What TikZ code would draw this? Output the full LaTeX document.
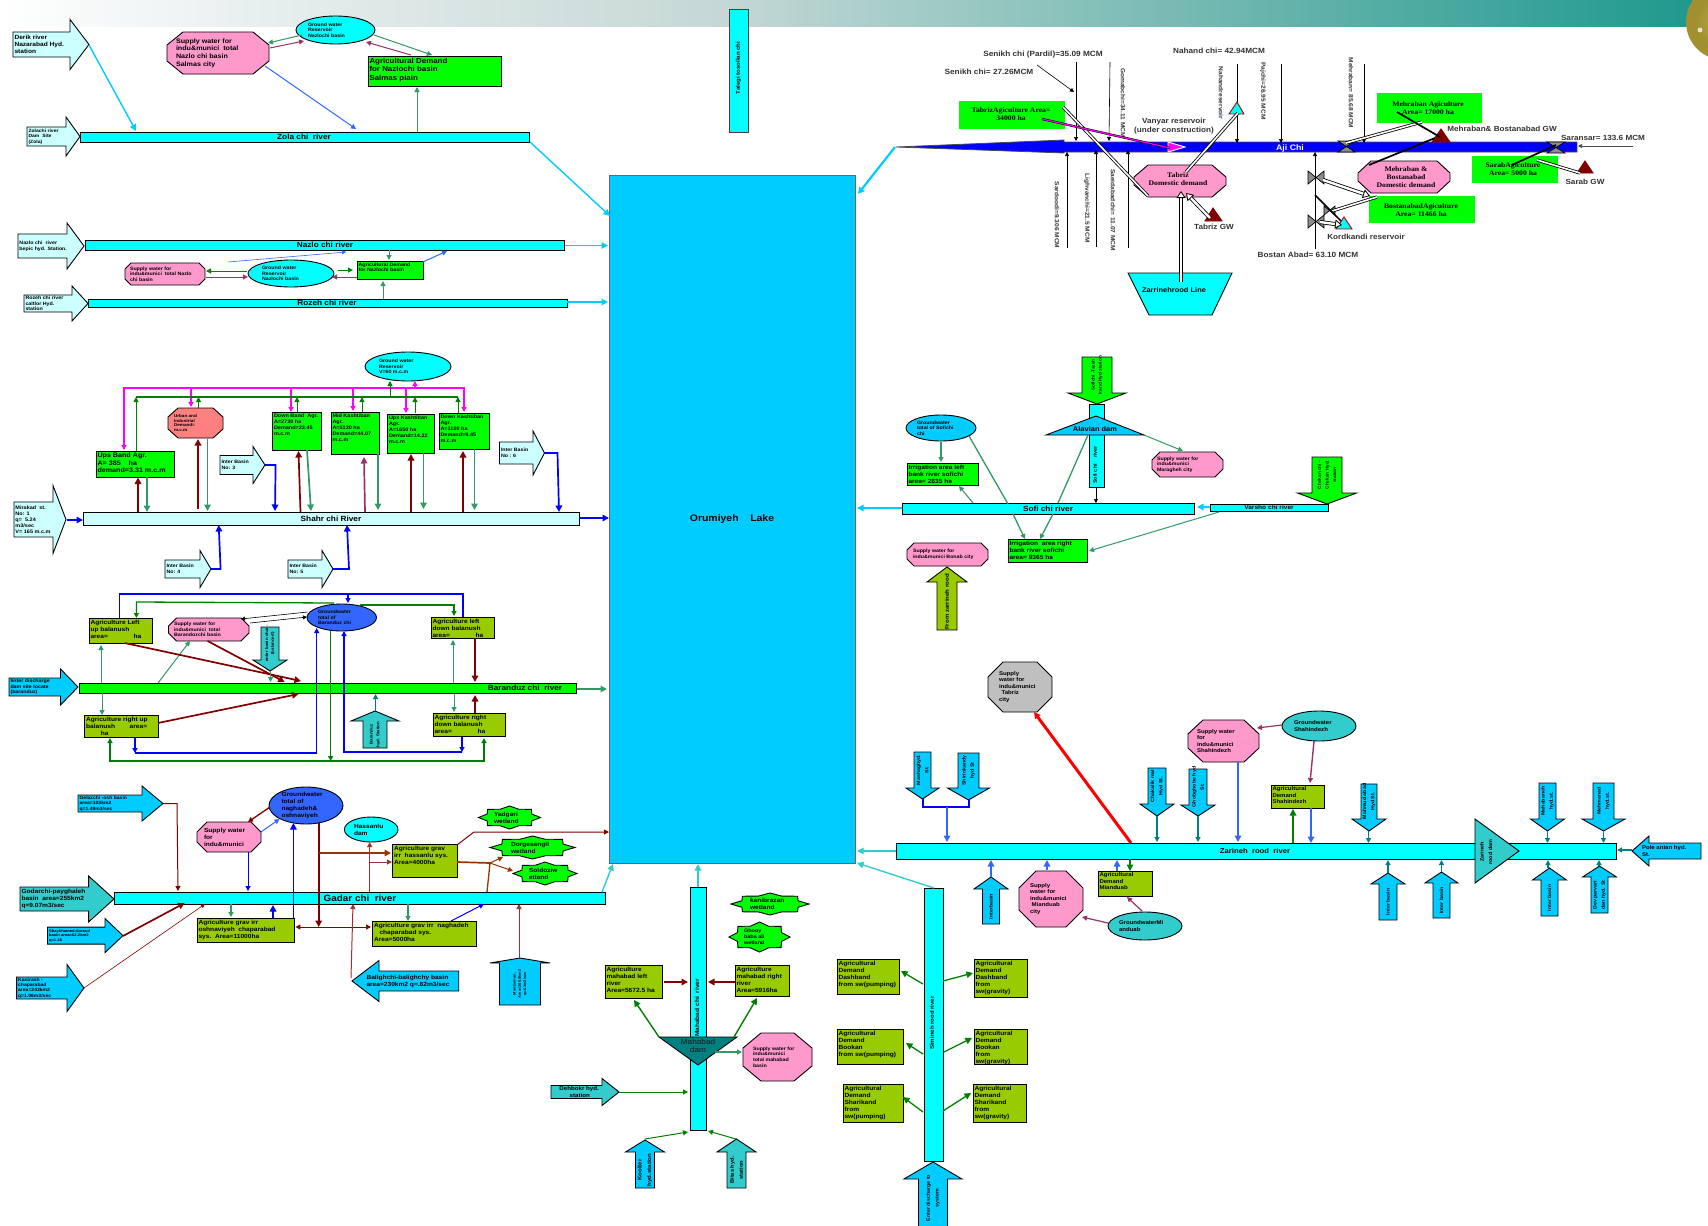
\documentclass[tikz,border=0pt]{standalone}
\usepackage{fontspec}
\setmainfont{Liberation Sans}[FakeStretch=1.1]
\newfontfamily\serb{Liberation Serif}[FakeStretch=1.1]
\usetikzlibrary{shapes.geometric,arrows.meta}
\definecolor{cyn}{HTML}{00FFFF}
\definecolor{lm}{HTML}{00FF00}
\definecolor{lc}{HTML}{CCFFFF}
\definecolor{sky}{HTML}{00CCFF}
\definecolor{tq}{HTML}{33CCCC}
\definecolor{oliv}{HTML}{99CC00}
\definecolor{pinkf}{HTML}{FF99CC}
\definecolor{seag}{HTML}{339966}
\definecolor{plum}{HTML}{993366}
\definecolor{rb}{HTML}{3366FF}
\definecolor{bb}{HTML}{0000FF}
\definecolor{dg}{HTML}{008000}
\definecolor{mar}{HTML}{800000}
\definecolor{tl}{HTML}{008080}
\definecolor{brn}{HTML}{993300}
\definecolor{rd}{HTML}{993333}
\definecolor{mg}{HTML}{FF00FF}
\definecolor{glA}{HTML}{C8B050}
\definecolor{glB}{HTML}{A09030}
\definecolor{glC}{HTML}{7070C0}
\definecolor{glD}{HTML}{404090}
\definecolor{bgA}{HTML}{E4ECEC}
\definecolor{bgB}{HTML}{C5D8D5}
\definecolor{bgC}{HTML}{1C988C}
\pgfdeclareradialshading{globe}{\pgfpoint{0bp}{0bp}}{color(0bp)=(glA);color(18bp)=(glB);color(26bp)=(glB);color(31bp)=(glC);color(35bp)=(glD);color(50bp)=(glD)}
\newcommand\fz[1]{\bfseries\fontsize{#1}{\dimexpr #1pt*118/100\relax}\selectfont}
\tikzset{
  lab/.style={inner sep=0pt,outer sep=0pt,align=left,text=black},
  T/.style={font=\fz{#1}},
  S/.style={font=\serb\fz{#1}},
  G/.style={font=\fz{#1},text=black!80},
  blk/.style={draw=black,line width=.9pt},
  ar/.style={line width=1pt,-{Triangle[length=5pt,width=5pt]}},
  arB/.style={line width=1.7pt,-{Triangle[length=6.5pt,width=6.5pt]}},
  arS/.style={line width=.6pt,-{Triangle[length=4pt,width=4pt]}},
  arD/.style={line width=1pt,{Triangle[length=5pt,width=5pt]}-{Triangle[length=5pt,width=5pt]}},
  nt/.style={line width=1pt},
  ntB/.style={line width=1.7pt},
  hol/.style={draw=black,double=white,double distance=2.4pt,line width=.8pt,-{Triangle[length=7pt,width=9pt,fill=white,color=black]}},
  hoc/.style={draw=black,double=white,double distance=1.6pt,line width=.8pt},
}
\def\getrect#1,#2,#3,#4\relax{\def\rxa{#1}\def\rya{#2}\def\rxb{#3}\def\ryb{#4}%
  \pgfmathsetmacro\rcx{(#1+#3)/2}\pgfmathsetmacro\rcy{(#2+#4)/2}%
  \pgfmathsetmacro\rw{#3-#1}\pgfmathsetmacro\rh{#4-#2}}
\def\getA#1,#2,#3,#4,#5,#6\relax{\def\aT{#1}\def\aB{#2}\def\aP{#3}\def\aC{#4}\def\aS{#5}\def\aH{#6}}
% rectangle with text top-left
\newcommand\RB[5]{\getrect#2\relax
  \node[blk,fill=#3,minimum width=\rw pt,minimum height=\rh pt,inner sep=0pt,outer sep=0pt] (#1) at (\rcx,\rcy) {};
  \node[lab,T=#4,anchor=north west] (#1-t) at ({\rxa+1.5},{\rya+1.8}) {#5};}
% river with centred label
\newcommand\RV[6]{\getrect#2\relax
  \node[blk,fill=#3,minimum width=\rw pt,minimum height=\rh pt,inner sep=0pt,outer sep=0pt] (#1) at (\rcx,\rcy) {};
  \node[lab,T=#4] (#1-t) at (#5,\rcy) {#6};}
% octagon
\newcommand\OCT[8]{\getrect#2\relax
  \draw[blk,fill=#5] ({\rxa+#3},\rya) -- ({\rxb-#3},\rya) -- (\rxb,{\rya+#4}) -- (\rxb,{\ryb-#4}) -- ({\rxb-#3},\ryb) -- ({\rxa+#3},\ryb) -- (\rxa,{\ryb-#4}) -- (\rxa,{\rya+#4}) -- cycle;
  \node[minimum width=\rw pt,minimum height=\rh pt,inner sep=0pt,outer sep=0pt] (#1) at (\rcx,\rcy) {};
  \node[lab,T=#6,anchor=west] (#1-t) at (#7,\rcy) {#8};}
% ellipse
\newcommand\EL[6]{\getrect#2\relax
  \node[ellipse,blk,fill=#3,minimum width=\rw pt,minimum height=\rh pt,inner sep=0pt,outer sep=0pt] (#1) at (\rcx,\rcy) {};
  \node[lab,T=#4,anchor=west] (#1-t) at (#5,\rcy) {#6};}
% eight pointed star
\newcommand\ST[5]{\getrect#2\relax
  \draw[blk,fill=lm] ({\rcx+\rw/2},\rcy) \foreach \ang/\rad in {22.5/.78,45/1,67.5/.78,90/1,112.5/.78,135/1,157.5/.78,180/1,202.5/.78,225/1,247.5/.78,270/1,292.5/.78,315/1,337.5/.78}{ -- ({\rcx+\rw/2*\rad*cos(\ang)},{\rcy+\rh/2*\rad*sin(\ang)}) } -- cycle;
  \node[lab,T=#3,anchor=west] (#1) at (#4,\rcy) {#5};}
% block arrows: tail,base,tip,centre,half shaft,half head
\newcommand\BAH[6][]{\getA#4\relax
  \draw[blk,fill=#3] (\aT,{\aC-\aS}) -- (\aB,{\aC-\aS}) -- (\aB,{\aC-\aH}) -- (\aP,\aC) -- (\aB,{\aC+\aH}) -- (\aB,{\aC+\aS}) -- (\aT,{\aC+\aS}) -- cycle;
  \coordinate (#2-tip) at (\aP,\aC);
  \def\tmp{#1}\ifx\tmp\empty\pgfmathsetmacro\tx{\aT+1.5}\else\def\tx{#1}\fi
  \node[lab,T=#5,anchor=west] (#2) at (\tx,\aC) {#6};}
\newcommand\BAV[6][]{\getA#4\relax
  \draw[blk,fill=#3] ({\aC-\aS},\aT) -- ({\aC-\aS},\aB) -- ({\aC-\aH},\aB) -- (\aC,\aP) -- ({\aC+\aH},\aB) -- ({\aC+\aS},\aB) -- ({\aC+\aS},\aT) -- cycle;
  \coordinate (#2-tip) at (\aC,\aP);
  \def\tmp{#1}\ifx\tmp\empty\pgfmathsetmacro\ty{(\aT+\aB)/2}\else\def\ty{#1}\fi
  \node[lab,T=#5,rotate=90,align=center] (#2) at (\aC,\ty) {#6};}
\newcommand\TRI[6]{\draw[#6,fill=#5,line width=.9pt] (#2) -- (#3) -- (#4) -- cycle; \coordinate (#1) at (#2);}
\newcommand\VALH[2]{\getrect#2\relax\draw[draw=black,line width=.7pt,fill=black!45] (\rxa,\rya) -- (\rxa,\ryb) -- (\rxb,\rya) -- (\rxb,\ryb) -- cycle; \coordinate (#1) at (\rcx,\rcy);}
\newcommand\VALV[2]{\getrect#2\relax\draw[draw=black,line width=.7pt,fill=black!45] (\rxa,\rya) -- (\rxb,\rya) -- (\rxa,\ryb) -- (\rxb,\ryb) -- cycle; \coordinate (#1) at (\rcx,\rcy);}
\newcounter{cnn}
\newcommand\polyc[6][]{\stepcounter{cnn}\coordinate (#2-a\thecnn) at (#3);\coordinate (#4-b\thecnn) at (#5);\draw[#1] (#2-a\thecnn) #6 -- (#4-b\thecnn);}
\newcommand\conn[5][]{\polyc[#1]{#2}{#3}{#4}{#5}{}}
\begin{document}
\begin{tikzpicture}[x=1pt,y=-1pt]
\path[use as bounding box] (0,0) rectangle (1708,1226);
\clip (0,0) rectangle (1708,1226);
\fill[white] (0,0) rectangle (1708,1226);
\shade[left color=white,right color=bgA] (0,0) rectangle (300,26);
\shade[left color=bgA,right color=bgB] (300,0) rectangle (720,26);
\shade[left color=bgB,right color=bgC] (720,0) rectangle (1708,26);
\shade[shading=globe] (1724,22) circle (38);
\fill[white,opacity=.75] (1700,30) circle (2.5);

% ---------- lake
\node[draw=black!60,line width=.5pt,fill=sky,minimum width=246pt,minimum height=688pt,inner sep=0pt,outer sep=0pt] (lake) at (732,519) {};
\node[lab,T=9.5] (lake-t) at (732,519) {Orumiyeh~~~~Lake};
\node[blk,draw=black!75,fill=cyn,minimum width=19pt,minimum height=123pt,inner sep=0pt,outer sep=0pt] (tale) at (738.5,70.5) {};
\node[lab,T=5.5,rotate=90] (tale-t) at (738.5,68) {Talegi tosollan chi};

% ---------- Zola
\BAH{derik}{lc}{13,70,89,44.5,12.5,25}{6}{Derik river\\Nazarabad Hyd.\\station}
\BAH{zolad}{lc}{27,66,80,136.5,9.5,19.5}{4.6}{Zolachi river\\Dam~~Site\\(Zola)}
\RV{zola}{80,132,529,142}{cyn}{7.5}{304}{Zola chi~~river}
\OCT{sup1}{167,32,269,74}{16}{13}{pinkf}{6.5}{176}{Supply water for\\indu\&munici~~total\\Nazlo chi basin\\Salmas city}
\EL{gw1}{296,16,375,44}{cyn}{4.8}{308}{Ground water\\Reservoir\\Nazlochi basin}
\RB{agr1}{368,56,501,86}{lm}{7.2}{Agricultural Demand\\for Nazlochi basin\\Salmas plain}
\conn[arB,sky,line width=1.4pt]{derik}{89,45}{zola}{136,131}
\conn[ar,seag]{gw1}{302,35}{sup1}{268,43}
\conn[ar,plum]{sup1}{270,48}{gw1}{304,41}
\conn[ar,seag]{gw1}{374,35}{agr1}{432,55}
\conn[ar,plum]{agr1}{411,55}{gw1}{366,42}
\conn[ar,rb]{sup1}{265,66}{zola}{356,129}
\conn[ar,seag]{zola}{417,132}{agr1}{417,87}
\conn[arB,sky,line width=1.4pt]{zola}{530,142}{lake}{610,216}

% ---------- Nazlo
\BAH{nazd}{lc}{18,67,84,246,12,23}{4.8}{Nazlo chi~~river\\bepic hyd. Station.}
\RV{nazlo}{85,240,564,250}{cyn}{7.5}{325}{Nazlo chi river}
\OCT{sup2}{125,263,205,285}{6}{6}{pinkf}{4.8}{130}{Supply water for\\indu\&munici~~total Nazlo\\chi basin}
\EL{gw2}{248,260,334,287}{cyn}{4.8}{262}{Ground water\\Reservoir\\Nazlochi basin}
\RB{agr2}{357,261,423.5,279}{lm}{4.8}{Agricultural Demand\\for Nazlochi basin}
\BAH{rozd}{lc}{24,72,88,303.5,8.5,17.5}{4.8}{Rozeh chi river\\caltlor Hyd.\\station}
\RV{rozeh}{88,299,567,307}{cyn}{7.5}{327}{Rozeh chi river}
\conn[arB,sky,line width=1.2pt]{nazlo}{565,245.5}{lake}{608,245.5}
\conn[arB,sky,line width=1.2pt]{rozeh}{567,302}{lake}{608,302}
\conn[ar,rb,arS]{gw2}{228,262}{nazlo}{346,252}
\conn[ar,seag]{nazlo}{389,250}{agr2}{389,260}
\conn[ar,rb]{agr2}{423,262}{nazlo}{447,251}
\conn[ar,dg]{gw2}{247,271}{sup2}{206,271}
\conn[ar,plum]{sup2}{206,277}{gw2}{248,277}
\conn[ar,dg]{gw2}{338,270}{agr2}{353,270}
\conn[ar,plum]{agr2}{357,277}{gw2}{332,277}
\conn[ar,seag]{rozeh}{383,299}{agr2}{383,281}

% ---------- Shahr
\RV{shahr}{83.5,512,579,525}{lc}{7.5}{331}{Shahr chi River}
\EL{gw3}{365,352,451,381}{cyn}{4.8}{379}{Ground water\\Reservoir\\V=60 m.c.m}
\RB{upb}{96,451,174,477}{lm}{6.5}{Ups Band Agr.\\A= 385~~~~ha\\demand=3.31 m.c.m}
\OCT{urb}{168,408,223,438}{10}{9}{red!50}{4.2}{174}{Urban and\\Industrial\\Demand=\\m.c.m}
\RB{dnb}{272.5,412,321.5,450}{lm}{5}{Down Band~~Agr.\\A=2730 ha\\Demand=23.45\\m.c.m}
\RB{mdk}{331,412,379,454}{lm}{5}{Mid Kashtiban\\Agr.\\A=5130 ha\\Demand=44.07\\m.c.m}
\RB{upk}{387.5,414,434.5,453}{lm}{5}{Ups Kashtiban\\Agr.\\A=1650 ha\\Demand=14.22\\m.c.m}
\RB{dnk}{439,413,489.5,449}{lm}{5}{Down Kashtiban\\Agr.\\A=1100 ha\\Demand=9.45\\m.c.m}
\polyc[ar,mg,line width=1.2pt]{dnk}{465,388}{upb}{124,450}{-- (124,388)}
\conn[ar,mg,line width=1.2pt]{upb}{191,388}{urb}{191,407}
\conn[ar,mg,line width=1.2pt]{upb}{291,388}{dnb}{291,412}
\conn[ar,mg,line width=1.2pt]{upb}{353,388}{mdk}{353,411}
\conn[ar,mg,line width=1.2pt]{upb}{406,388}{upk}{406,413}
\conn[ar,mg,line width=1.2pt]{upb}{464,388}{dnk}{464,412}
\conn[ar,mg,line width=1.2pt]{upb}{415,388}{gw3}{415,381}
\conn[nt,dg,line width=1.2pt]{upb}{136,397}{dnk}{458,397}
\conn[ar,dg]{upb}{136,451}{dnk}{136,397}
\conn[ar,dg]{urb}{198.5,408}{dnk}{198.5,397}
\conn[ar,dg]{dnb}{297,412}{dnk}{297,397}
\conn[ar,dg]{mdk}{362,412}{dnk}{362,397}
\conn[ar,dg]{upk}{415,413}{dnk}{415,397}
\conn[ar,dg]{dnk}{458,413}{upb}{458,397}
\conn[ar,dg]{upb}{390,397}{gw3}{390,381}
\conn[arB,mar]{shahr}{138,512}{upb}{138,477.5}
\conn[arB,mar]{shahr}{198,509}{urb}{198,439}
\conn[arB,mar]{shahr}{300.5,512}{dnb}{298.5,451}
\conn[arB,plum]{shahr}{365,512}{mdk}{364,457}
\conn[arB,mar]{shahr}{411,512}{upk}{411,454}
\conn[arB,mar]{shahr}{463,512}{dnk}{463,451}
\conn[arB,seag]{upb}{147,477}{shahr}{147,512}
\conn[arB,seag]{urb}{207.5,439}{shahr}{207.5,511}
\conn[arB,seag]{dnb}{307,450}{shahr}{311,511}
\conn[arB,seag]{mdk}{378,454}{shahr}{378,510}
\conn[arB,seag]{upk}{423.5,453}{shahr}{423.5,509}
\conn[arB,seag]{dnk}{474.5,449}{shahr}{474.5,510}
\BAH{ib1}{lc}{14,53,66,519.5,17.5,34}{5}{Mirakad~~st.\\No: 1\\q=~~5.24\\m3/sec\\V= 165 m.c.m}
\BAH{ib3}{lc}{220,253,265,465,9.5,18.5}{4.8}{Inter Basin\\No: 3}
\BAH{ib6}{lc}{499.5,533,544.5,453,11,22}{4.8}{Inter Basin\\No : 6}
\BAH{ib4}{lc}{165,200,211,569,9,18.5}{4.8}{Inter Basin\\No: 4}
\BAH{ib5}{lc}{288,322,333,569,9,18.5}{4.8}{Inter Basin\\No: 5}
\conn[arB,bb]{ib1-tip}{66.5,520}{shahr}{83,520}
\polyc[arB,bb]{ib3-tip}{265,465}{shahr}{275,511}{-- (275.6,465)}
\polyc[arB,bb]{ib6-tip}{544.5,453}{shahr}{559,512}{-- (557.5,453)}
\polyc[arB,bb]{ib4-tip}{211,569}{shahr}{218.7,525}{-- (220.6,569)}
\polyc[arB,bb]{ib5-tip}{333,569}{shahr}{347,525}{-- (349,569)}
\conn[arB,bb]{shahr}{579,518}{lake}{609,518}

% ---------- Baranduz
\RV{baran}{79.5,683,576,693}{lm}{7.5}{525}{Baranduz chi~~river}
\EL{gw4}{307,604,376.5,631}{rb}{4.8}{318}{Groundwater\\total of\\Baranduz chi}
\RB{alu}{89,618,152,643}{oliv}{6}{Agriculture Left\\up balanush\\area=~~~~~~~~~~~~~~ha}
\OCT{sup3}{168.5,618,249,641}{8}{8}{pinkf}{4.8}{174}{Supply water for\\indu\&munici~~total\\Barandozchi basin}
\RB{ald}{431,617,494,638}{oliv}{6}{Agriculture left\\down balanush\\area=~~~~~~~~~~~~~~ha}
\RB{aru}{84.6,715,158.6,737}{oliv}{6}{Agriculture right up\\balanush~~~~~~~~area=\\~~~~~~~~ha}
\RB{ard}{433,713,505,736}{oliv}{6}{Agriculture right\\down balanush\\area=~~~~~~~~~~~~~~ha}
\BAH{bard}{sky}{9,60.5,78,687,9,18}{4.8}{Iinter discharge\\dam site locate\\(baranduz)}
\BAV{bbal}{tq}{627,660,671,270,9,17}{4}{enter basin chai -\\[1pt](balanced)}
\BAV{bhyd}{tq}{748,721,711,375,12,24}{4}{Baranduz\\[2pt]hyd. Station}
\polyc[ar,bb,line width=1.3pt]{alu}{119.4,618}{gw4}{348,603}{-- (119.4,594) -- (348,594)}
\polyc[nt,bb,line width=1.3pt]{ald}{463,617}{gw4}{348,594}{-- (463,594)}
\polyc[ar,dg,line width=1.3pt]{gw4}{334,603}{alu}{136.4,618}{-- (136.4,602)}
\polyc[ar,dg,line width=1.3pt]{gw4}{360,605}{ald}{454,616}{-- (454,605)}
\conn[arS,black]{gw4}{307.6,612}{sup3}{241,619}
\conn[arS,black]{sup3}{250,623}{gw4}{307,617}
\conn[ar,seag,{Triangle[length=5pt,width=5pt]}-]{alu}{101,645}{baran}{101,683}
\conn[ar,seag]{baran}{102,693}{aru}{102,715}
\conn[ar,seag]{baran}{158,683}{sup3}{190,641}
\conn[arB,mar]{alu}{124.6,643}{baran}{301,681}
\conn[arB,mar]{sup3}{207.6,641}{baran}{284.7,682}
\conn[arB,mar]{aru}{158,723}{baran}{298.5,694}
\conn[ar,seag]{bbal-tip}{270.5,671}{baran}{270.5,682}
\conn[ar,tl]{bhyd-tip}{375.6,711}{baran}{375.6,694}
\conn[ar,seag]{baran}{453,683}{ald}{453,640}
\conn[ar,seag]{baran}{454,694}{ard}{454,712}
\conn[arB,mar]{ald}{475,638}{baran}{475,682}
\conn[arB,mar]{ard}{475,713}{baran}{475,695}
\polyc[ar,bb,line width=1.3pt]{aru}{135,753}{gw4}{316.7,628}{-- (316.7,753)}
\conn[ar,bb,line width=1.3pt]{aru}{135,737}{gw4}{135,753}
\polyc[ar,bb,line width=1.3pt]{ard}{462,752}{gw4}{344,631}{-- (344,752)}
\conn[ar,bb,line width=1.3pt]{ard}{462,737}{gw4}{462,752}
\conn[ar,dg,line width=1.3pt]{gw4}{330.6,631}{baran}{330.6,761}
\polyc[ar,dg,line width=1.3pt]{gw4}{330.6,761}{aru}{110,738}{-- (110,761)}
\polyc[ar,dg,line width=1.3pt]{gw4}{330.6,761}{ard}{484,738}{-- (484,761)}
\conn[arB,seag,line width=1.3pt]{baran}{576.5,689}{lake}{607,689}

% ---------- Gadar
\RV{gadar}{114,892,605,904}{cyn}{9}{360}{Gadar chi~~river}
\BAH{god}{tq}{20,88.6,114,899,12,23}{6}{Godarchi-payghaleh\\basin~~area=255km2\\q=9.07m3/sec}
\BAH{gel}{sky}{78,142,163,803.5,8.5,17.5}{4.6}{Gelazchi -osh basin\\area=103km2\\q=1.49m3/sec}
\BAH{shay}{sky}{47.5,105,123,935.6,8.5,17}{3.8}{Shaykhamed-daraud\\basin area=62.2km2\\q=1.36}
\BAH{kan}{sky}{16.6,67,84,988,11,23.5}{4.6}{Kanirash -\\chaparabad\\area=243km2\\q=1.06m3/sec}
\OCT{sup4}{197,822,261,852}{10}{10}{pinkf}{6}{204}{Supply water\\for\\indu\&munici}
\EL{gw5}{269,787,343,824}{rb}{6}{281.5}{Groundwater\\total of\\naghadeh\&\\oshnaviyeh}
\RB{aosh}{197,918,294,942}{oliv}{6}{Agriculture grav irr\\oshnaviyeh~~chaparabad\\sys.~~Area=11000ha}
\RB{anag}{372.5,921,476,946}{oliv}{6}{Agriculture grav irr~~naghadeh\\~~~chaparabad sys.\\Area=5000ha}
\EL{hdam}{344.4,817,398,842}{cyn}{6}{354}{Hassanlu\\dam}
\RB{ahas}{392.6,844,457,877}{oliv}{6}{Agriculture grav\\irr~~hassanlu sys.\\Area=4000ha}
\ST{yad}{478.5,806,540.5,829}{6}{494}{Yadgari\\wetland}
\ST{dor}{490,836,575,859}{6}{511}{Dorgesangil\\wetland}
\ST{sol}{513,862,577,885}{6}{529}{Soldoziw\\etland}
\BAH[366.5]{bal}{sky}{458.7,379,352,981,10,20.5}{6}{Balighchi-balighchy basin\\area=230km2 q=.82m3/sec}
\BAV{mam}{sky}{1005,963,958,520,20.5,30}{3.6}{Mamzaman.\\[1pt]Area=300.8km2\\[1pt]q=.62m3/sec}
\polyc[ar,mar]{gel-tip}{163,803.5}{gadar}{178,891}{-- (177,803.5)}
\conn[arB,mar]{shay-tip}{123,936}{gadar}{184.7,903}
\conn[arS,mar]{kan-tip}{84,988}{gadar}{205,904}
\conn[ar,mar,line width=1.3pt]{gw5}{270,807}{sup4}{248,822}
\conn[ar,rb]{sup4}{261,832}{gw5}{279.5,819}
\conn[ar,bb]{sup4}{248,852}{gadar}{248,891}
\conn[ar,seag,line width=1.3pt]{gadar}{231,904}{aosh}{231,917}
\conn[arB,bb]{aosh}{273,918}{gadar}{273,905}
\conn[arB,bb,line width=1.3pt]{aosh}{293.4,918}{gw5}{293.4,823}
\conn[arB,mar]{gw5}{318.7,823}{aosh}{318.7,927}
\conn[arD,mar]{aosh}{295.4,927}{anag}{371,927}
\conn[ar,seag,line width=1.3pt]{gadar}{408,904}{anag}{408,921}
\conn[ar,bb]{anag}{451,921}{gadar}{484,904}
\conn[ar,rd]{gadar}{369.7,892}{hdam}{369.7,842}
\conn[ar,rd]{hdam}{370,862}{ahas}{392,862}
\conn[arB,brn]{gw5}{319,853}{ahas}{391,853}
\polyc[ar,mar]{ahas}{457,845}{lake}{609,832}{-- (474,832)}
\conn[ntB,brn]{ahas}{457,862}{dor}{490,863}
\conn[ar,brn]{ahas}{490,863}{dor}{503,857}
\conn[ar,brn]{ahas}{490,863}{sol}{513,871}
\conn[nt,brn,line width=1.3pt]{gadar}{487,892}{dor}{490,863}
\conn[ar,rd]{bal-tip}{351,978}{gadar}{353,904}
\conn[ar,rd]{mam-tip}{519,958}{gadar}{519,904}
\conn[arB,tq,line width=1.4pt]{gadar}{602,892}{lake}{613,864}

% ---------- Mahabad
\RV{maha}{690,887,706,1130}{cyn}{1}{698}{}
\node[lab,T=6,rotate=90] (maha-t) at (697,1008) {Mahabad chi~~river};
\ST{kani}{731,893,809,915}{6}{750}{kanibrazan\\wetland}
\ST{gho}{729,922,790,952}{5}{744}{Ghooy\\baba ali\\wetland}
\RB{aml}{605,965,662,998}{oliv}{6}{Agriculture\\mahabad left\\river\\Area=5672.5 ha}
\RB{amr}{735,965,789,996}{oliv}{6}{Agriculture\\mahabad right\\river\\Area=5916ha}
\draw[blk,fill=tl] (659,1037) -- (737,1037) -- (698,1065) -- cycle;
\node[lab,align=center,text=black!90,font=\fontsize{7.5}{8.5}\selectfont] (mdam) at (698,1046) {Mahabad\\dam};
\OCT{sup5}{743,1033,812,1081}{18}{15}{pinkf}{4.8}{753}{Supply water for\\indu\&munici\\total mahabad\\basin}
\BAH[556]{deh}{tq}{551,602,619,1092,6.5,13.5}{5.6}{~~Dehbokr hyd.\\~~~~~~~~station}
\BAV{koo}{sky}{1188,1152,1140,645,9.5,19.5}{5.5}{Koolter\\[3pt]hyd.station}
\BAV{bit}{tq}{1188,1152,1139,736.5,9.5,19.5}{5.2}{Bitas hyd.\\[3pt]station}
\conn[arB,tq,line width=1.4pt]{maha}{698,887}{lake}{698,864}
\conn[arB,mar,line width=1.4pt]{aml}{664,982}{maha}{688,982}
\conn[arB,mar,line width=1.4pt]{amr}{735,982}{maha}{708,982}
\conn[arB,dg,line width=1.4pt]{mdam}{659,1037}{aml}{634,1000}
\conn[arB,dg,line width=1.4pt]{mdam}{734,1037}{amr}{757,998}
\conn[ar,seag,line width=1.3pt]{mdam}{715,1052}{sup5}{742,1052}
\conn[ar,dg]{deh-tip}{619,1092}{maha}{688,1092}
\conn[ar,dg]{koo-tip}{645,1139}{maha}{688,1132}
\conn[ar,dg]{bit-tip}{736,1139}{maha}{708,1131}

% ---------- Simineh
\RV{simi}{924,888,943,1161}{cyn}{1}{933}{}
\node[lab,T=5.5,rotate=90] (simi-t) at (932,1023) {Simineh rood river};
\BAV[1198]{simin}{sky}{1232,1179,1162,933,14.5,29}{4.8}{Enter discharge to\\[3pt]system}
\RB{dpu}{837,959,899,994}{oliv}{6}{Agricultural\\Demand\\Dashband\\from sw(pumping)}
\RB{bpu}{837,1029,903,1064}{oliv}{6}{Agricultural\\Demand\\Bookan\\from sw(pumping)}
\RB{spu}{843,1084,903,1122}{oliv}{6}{Agricultural\\Demand\\Sharikand\\from\\sw(pumping)}
\RB{dgr}{974,959,1027,997}{oliv}{6}{Agricultural\\Demand\\Dashband\\from\\sw(gravity)}
\RB{bgr}{974,1029,1027,1064}{oliv}{6}{Agricultural\\Demand\\Bookan\\from\\sw(gravity)}
\RB{sgr}{973,1084,1026,1122}{oliv}{6}{Agricultural\\Demand\\Sharikand\\from\\sw(gravity)}
\conn[arB,tq,line width=1.4pt]{simi}{934,888}{lake}{857,863}
\conn[arB,dg,line width=1.3pt]{simi}{923,984}{dpu}{901,971}
\conn[arB,dg,line width=1.3pt]{simi}{943,981}{dgr}{973,973}
\conn[arB,dg,line width=1.3pt]{simi}{923,1054}{bpu}{906,1043}
\conn[arB,dg,line width=1.3pt]{simi}{944,1052}{bgr}{972,1038}
\conn[arB,dg,line width=1.3pt]{simi}{923,1112}{spu}{903,1097}
\conn[arB,dg,line width=1.3pt]{simi}{943,1111}{sgr}{971,1093}

% ---------- Aji
\draw[draw=black!70,line width=.8pt,fill=bb] (896,147) -- (1064,140) -- (1064,142) -- (1577,142) -- (1577,152) -- (1064,152) -- (1064,153) -- cycle;
\coordinate (aji) at (1290,147);
\node[lab,T=8,text=white] (aji-t) at (1290,148) {Aji Chi};
\conn[arB,sky,line width=2.2pt]{aji}{895,147}{lake}{858,194}
\node[lab,G=7.5] (t1) at (1043,55) {Senikh chi (Pardil)=35.09 MCM};
\node[lab,G=7.5] (t2) at (989,72) {Senikh chi= 27.26MCM};
\node[lab,G=7.5] (t3) at (1219,51) {Nahand chi= 42.94MCM};
\node[lab,G=6,rotate=270] (t4) at (1123,103) {Gomabchi=34.11 MCM};
\node[lab,G=6,rotate=270] (t5) at (1221,93) {Nahandreservoir};
\node[lab,G=6,rotate=270] (t6) at (1263,91) {Pajchi=26.95 MCM};
\node[lab,G=6,rotate=270] (t7) at (1057,215) {Sardoodi=9.306 MCM};
\node[lab,G=6,rotate=270] (t8) at (1087,208) {Lighvanchi=21.5 MCM};
\node[lab,G=6,rotate=270] (t9) at (1113,210) {Saeidabadchi= 11.07 MCM};
\node[lab,G=6,rotate=270] (t10) at (1351,93) {Mehraban= 85.68 MCM};
\node[lab,G=7.4,align=center] (t11) at (1174,126) {Vanyar reservoir\\(under construction)};
\node[lab,G=7.4] (t12) at (1214,227) {Tabriz GW};
\node[lab,G=7.5] (t13) at (1308,255) {Bostan Abad= 63.10 MCM};
\node[lab,G=7.4] (t14) at (1502,129) {Mehraban\& Bostanabad GW};
\node[lab,G=7.4] (t15) at (1603,138) {Saransar= 133.6 MCM};
\node[lab,G=7.4] (t16) at (1585,182) {Sarab GW};
\node[lab,G=7.4] (t17) at (1366,237) {Kordkandi reservoir};
\conn[arS,black]{t1}{1076,62}{aji}{1076,141}
\conn[arS,black]{t2}{1037,65}{t1}{1074,92}
\conn[arS,black]{t4}{1110,62}{aji}{1109,141}
\conn[arS,black]{t3}{1237,64}{aji}{1237,143}
\conn[arS,black]{t6}{1281,64}{aji}{1281,143}
\conn[arS,black]{t10}{1364,64}{aji}{1364,143}
\conn[arS,black]{t7}{1067,248}{aji}{1067,152}
\conn[arS,black]{t8}{1096,247}{aji}{1096,150}
\conn[arS,black]{t9}{1128,248}{aji}{1128,150}
\conn[arS,black]{t13}{1315,249}{aji}{1315,152}
\conn[arS,black!70]{t15}{1633,146}{aji}{1578,146}
% green boxes
\node[fill=lm,minimum width=106pt,minimum height=28pt,inner sep=0pt] (tag) at (1012,115) {};
\node[lab,S=7,align=center] (tag-t) at (1011,114) {TabrizAgiculture Area=\\34000 ha};
\node[fill=lm,minimum width=105pt,minimum height=30pt,inner sep=0pt] (mag) at (1429.5,108) {};
\node[lab,S=7,align=center] (mag-t) at (1428,108) {Mehraban Agiculture\\Area= 17000 ha};
\node[fill=lm,minimum width=86pt,minimum height=27pt,inner sep=0pt] (sag) at (1515,169.5) {};
\node[lab,S=7,align=center] (sag-t) at (1513,169) {SarabAgiculture\\Area= 5000 ha};
\node[fill=lm,minimum width=106pt,minimum height=27pt,inner sep=0pt] (bag) at (1422,209.5) {};
\node[lab,S=7,align=center] (bag-t) at (1421,210) {BostanabadAgiculture\\Area= 11466 ha};
\OCT{tdom}{1134,165,1226,197}{14}{12}{pinkf}{1}{1178}{}
\node[lab,S=7,align=center] (tdom-t) at (1178,179) {Tabriz\\Domestic demand};
\OCT{mdom}{1358,161,1450,193}{13}{12}{pinkf}{1}{1406}{}
\node[lab,S=7,align=center] (mdom-t) at (1406,177) {Mehraban \&\\Bostanabad\\Domestic demand};
\draw[blk,fill=cyn] (1128,273) -- (1232,273) -- (1212,315) -- (1149,315) -- cycle;
\node[lab,T=6.8] (zar) at (1174,290) {Zarrinehrood Line};
\TRI{nres}{1237,102}{1229,114}{1244,114}{cyn}{draw=red!70!black}
\TRI{kres}{1344,217}{1336,229}{1352,229}{cyn}{draw=red!70!black}
\TRI{vres}{1168,142}{1185,147}{1168,152}{mg}{draw=white}
\TRI{tgw}{1213,208}{1205,221}{1222,221}{mar}{draw=mar}
\TRI{mgw}{1441,129}{1432,142}{1450,142}{mar}{draw=mar}
\TRI{sgw}{1585,161}{1577,173}{1593,173}{mar}{draw=mar}
\VALV{v1}{1338,141,1355,152}
\VALV{v2}{1547,142,1565,153}
\VALH{v3}{1308,171,1324,184}
\VALH{v4}{1324,206,1335,215}
\VALH{v5}{1308,215,1324,228}
\conn[hol]{zar}{1181,282}{tdom}{1181,191}
\conn[hol]{tgw}{1210,218}{tdom}{1186,193}
\conn[hoc]{tdom}{1186,172}{nres}{1238,113}
\conn[hoc]{tag}{1063,107}{tdom}{1148,196}
\conn[draw=black,double=mg,double distance=1.2pt,line width=.5pt]{tag}{1042,119}{vres}{1170,148}
\conn[hoc]{v1}{1346,143}{mag}{1422,122}
\conn[ntB,black]{mag}{1397,112}{mgw}{1440,137}
\conn[ntB,black]{mgw}{1435,138}{mdom}{1369,165}
\conn[hol]{v3}{1323,180}{bag}{1370,196}
\conn[hoc]{v4}{1332,211}{bag}{1377,197}
\conn[ntB,black]{t13}{1315,195}{kres}{1341,221}
\conn[hol]{v5}{1320,222}{kres}{1342,225}
\conn[ntB,black]{v2}{1556,145}{sag}{1512,165}
\conn[hoc]{sgw}{1580,173}{sag}{1537,160}

% ---------- Sofi
\RV{sofi}{902,503,1194,514}{cyn}{7.5}{1048}{Sofi chi river}
\RV{vars}{1210,504,1328,511}{cyn}{6}{1269}{Varsho chi river}
\node[blk,fill=cyn,minimum width=15pt,minimum height=83pt,inner sep=0pt,outer sep=0pt] (sofu) at (1096.5,445.5) {};
\node[lab,T=5,rotate=90] (sofu-t) at (1095,465) {Sofi chi~~~~river};
\draw[blk,fill=sky] (1096,416) -- (1046,435) -- (1144,435) -- cycle;
\node[lab,T=6.8] (alav) at (1095,429) {Alavian dam};
\BAV{tazeh}{lm}{357,393,404,1097,15,29}{4.3}{Soflchi -Tazeh\\[2pt]kand Hyd station}
\BAV{chek}{lm}{457,493,504,1327,15,29.5}{4.3}{Chekan chi -\\[2.5pt]Chekan Hyd.\\[2.5pt]station}
\EL{gw6}{906,415,976,441}{sky}{4.8}{917}{Groundwater\\total of Sofichi\\chi}
\RB{irl}{907,463,978,485}{lm}{6}{Irrigation area left\\bank river sofichi\\area= 2835 ha}
\RB{irr}{1008,539,1087,562}{lm}{6}{Irrigation~~area right\\bank river sofichi\\area= 9365 ha}
\OCT{smar}{1152,452,1223,477}{8}{8}{pinkf}{4.8}{1157}{Supply water for\\indu\&munici\\Maragheh city}
\OCT{sbon}{907,543,988,566}{7}{7}{pinkf}{4.8}{913}{Supply water for\\indu\&munici Bonab city}
\BAV[602]{fzar}{oliv}{630,582,567,947,10,20}{5.5}{From zarrineh rood}
\conn[arB,sky,line width=1.3pt]{sofi}{902,508}{lake}{857,508}
\conn[arB,sky]{vars}{1210,507}{sofi}{1197,507}
\conn[ar,seag,line width=1.3pt]{gw6}{941,442}{irl}{941,462}
\conn[nt,seag,line width=1.3pt]{gw6}{969,436}{sofi}{1008,504}
\conn[ar,seag,line width=1.3pt]{sofi}{1013,514}{irr}{1025,539}
\conn[ar,seag,line width=1.1pt]{sofi}{973,503}{irl}{959,486}
\conn[nt,seag,line width=1.3pt]{alav}{1088,435}{sofi}{1058,503}
\conn[ar,seag,line width=1.3pt]{sofi}{1053,514}{irr}{1040,539}
\conn[ar,seag]{alav}{1144,435}{smar}{1183,451}
\conn[arS,black]{sofu}{1096,487}{sofi}{1096,503}
\conn[ar,seag]{vars}{1219,512}{irr}{1089,551}

% ---------- Zarineh
\RV{zari}{896,843,1616,859}{cyn}{7}{1255}{Zarineh~~rood~~river}
\OCT{stab}{988,662,1052,712}{15}{15}{black!25}{5.5}{999}{Supply\\water for\\indu\&munici\\~\,Tabriz\\city}
\OCT{smia}{1019,871,1083,927}{17}{17}{pinkf}{5.5}{1030}{Supply\\water for\\indu\&munici\\~Mianduab\\city}
\OCT{ssha}{1188,720,1259,762}{15}{14}{pinkf}{5.5}{1197}{Supply water\\for\\indu\&munici\\Shahindezh}
\RB{amia}{1098,871,1152,896}{oliv}{5.5}{Agricultural\\Demand\\Mianduab}
\RB{asha}{1271,785,1324,808}{oliv}{5.5}{Agricultural\\Demand\\Shahindezh}
\EL{gmia}{1108,912,1182,940}{tq}{5.5}{1119}{GroundwaterMi\\anduab}
\EL{gsha}{1282,711,1356,741}{tq}{5.5}{1294}{Groundwater\\Shahindezh}
\BAV{ma}{sky}{752,788,799,922.5,8.5,16.5}{4.8}{Mashaghyd.\\[2.5pt]St.}
\BAV{shi}{sky}{753,788,800,968.5,10.5,21}{4.8}{Shirinkandy\\[2.5pt]hyd St}
\BAV{cha}{sky}{768,804,816,1157,9,17}{4.8}{Chakalik mal\\[2.5pt]Hyd St.}
\BAV{ghb}{sky}{769,805,816,1198,9,17}{4.8}{Ghobghobe hyd\\[2.5pt]St.}
\BAV{int}{sky}{924,889,877,991,8.5,17}{4.8}{Interbasin}
\BAV{mah}{sky}{784,819,831,1369,8,17}{4.8}{Mahmud abad\\[2.5pt]Hyd St.}
\BAV{in1}{sky}{920,884,873,1388,9,17}{4.8}{Inter basin}
\BAV{in2}{sky}{918,883,872,1441.5,8.5,16.5}{4.8}{Inter basin}
\BAV{in3}{sky}{916,880,868,1549.5,8.5,17}{4.8}{Inter basin}
\BAV{mhb}{sky}{783,819,831,1547.5,8.5,17}{4.8}{Mahabaneh\\[2.5pt]hyd.st.}
\BAV{meh}{sky}{783,819,831,1603.5,10.5,21.5}{4.8}{Mehmanad\\[2.5pt]hyd.st.}
\BAV{dev}{sky}{913,877,866,1599.5,8.5,17}{4.8}{Dev parvari\\[2.5pt]dan hyd. St}
\BAH[1642]{pol}{sky}{1701,1649,1632,851,8,15}{5.5}{Pole anian hyd.\\St.}
\draw[blk,fill=tq] (1475,819) -- (1475,883) -- (1519,851) -- cycle;
\node[lab,T=5,rotate=90,align=center] (zdam) at (1486,852) {Zarineh\\[2.5pt]rood dam};
\conn[arB,tq,line width=1.1pt]{zari}{896,851}{lake}{857,851}
\conn[arB,red,line width=3pt]{zari}{1131,843}{stab}{1034,712}
\polyc[nt,bb,line width=2pt]{ma-tip}{922.5,799}{shi-tip}{968.5,799}{-- (922.5,807) -- (968.5,807)}
\conn[arB,rb]{ma-tip}{947,807}{zari}{947,842}
\conn[ar,tl,line width=1.2pt]{cha-tip}{1157,816}{zari}{1157,842}
\conn[ar,tl,line width=1.2pt]{ghb-tip}{1198,816}{zari}{1198,842}
\conn[arB,rb,line width=1.3pt]{int-tip}{991,877}{zari}{991,860}
\conn[arB,rb,line width=1.3pt]{smia}{1047,870}{zari}{1047,860}
\conn[arB,rb,line width=1.3pt]{amia}{1117,871}{zari}{1117,860}
\conn[arB,dg,line width=1.3pt]{zari}{1130,859}{amia}{1130,871}
\conn[ar,plum,line width=1.2pt]{gmia}{1142,911}{amia}{1127,897}
\conn[ar,plum,line width=1.2pt]{gmia}{1108,923}{smia}{1082,917}
\conn[arB,rb,line width=1.4pt]{ssha}{1238,762}{zari}{1238,842}
\conn[ar,plum,line width=1.2pt]{gsha}{1282,725}{ssha}{1257,728}
\conn[ar,plum,line width=1.4pt]{gsha}{1314,741}{asha}{1310,783}
\conn[arB,dg]{zari}{1293,843}{asha}{1293,809}
\conn[arB,rb]{asha}{1311,808}{zari}{1311,843}
\conn[ar,tl,line width=1.2pt]{mah-tip}{1368.5,831}{zari}{1368.5,843}
\conn[ar,tl,line width=1.2pt]{in1-tip}{1388,873}{zari}{1388,860}
\conn[ar,tl,line width=1.2pt]{in2-tip}{1441.5,872}{zari}{1441.5,860}
\conn[ar,tl,line width=1.2pt]{in3-tip}{1548,868}{zari}{1548,860}
\conn[ar,tl,line width=1.2pt]{mhb-tip}{1547.5,831}{zari}{1547.5,843}
\conn[ar,tl,line width=1.2pt]{meh-tip}{1603.5,831}{zari}{1603.5,843}
\conn[ar,tl,line width=1.2pt]{dev-tip}{1599,866}{zari}{1599,860}
\conn[ar,tl,line width=1.2pt]{pol-tip}{1632,850}{zari}{1617,850}
\end{tikzpicture}
\end{document}
